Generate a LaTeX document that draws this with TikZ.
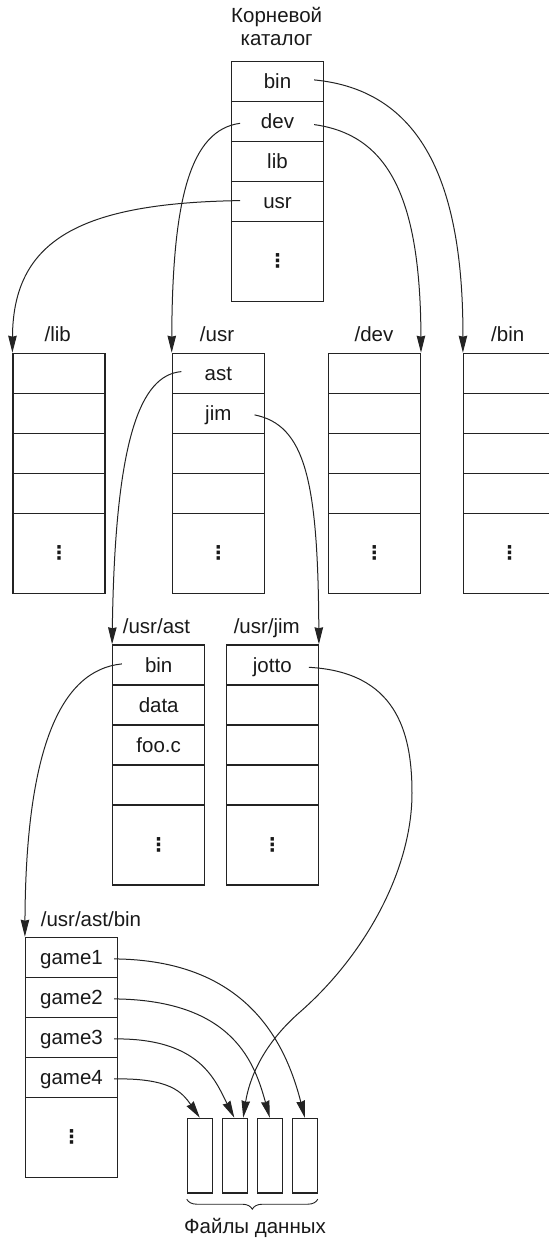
\documentclass[tikz,border=0pt]{standalone}
\usepackage{fontspec}
\setmainfont{Liberation Sans}
\newfontfamily\djv{DejaVu Sans}
\usetikzlibrary{arrows.meta,calc,decorations.pathreplacing}
\definecolor{lc}{RGB}{35,35,35}
\definecolor{tc}{RGB}{25,25,25}
\newcommand{\fsz}{\fontsize{20.5}{23}\selectfont}
\begin{document}
\begin{tikzpicture}[x=1pt,y=-1pt,
  boxbase/.style={draw=lc, line width=1.2pt, minimum width=92pt, inner sep=0pt, anchor=north, text=tc},
  cell/.style={boxbase, minimum height=40pt, text height=15pt, text depth=0pt, font=\fsz},
  lastcell/.style={boxbase, minimum height=80pt, font=\djv\bfseries\fontsize{19}{19}\selectfont},
  lbl/.style={anchor=base, inner sep=0pt, font=\fsz, text=tc},
  filebox/.style={draw=lc, line width=1.2pt, minimum width=24.8pt, minimum height=74.6pt, inner sep=0pt, anchor=north},
  arr/.style={draw=lc, line width=1pt, -{Stealth[length=17pt,width=8.5pt,inset=1pt]}}
]
\useasboundingbox (0,0) rectangle (549,1240);
\clip (0,0) rectangle (549,1240);

% title
\node[lbl] (troot1) at (276.7,22) {Корневой};
\node[lbl] (troot2) at (276.7,45) {каталог};

% root directory
\node[cell] (r1) at (277.5,60.7) {bin};
\node[cell] (r2) at (277.5,100.7) {dev};
\node[cell] (r3) at (277.5,140.7) {lib};
\node[cell] (r4) at (277.5,180.7) {usr};
\node[lastcell] (r5) at (277.5,220.7) {⋮};

% /lib
\node[lbl] (tlib) at (57.8,341.5) {/lib};
\node[cell] (l1) at (59,352.7) {};
\node[cell] (l2) at (59,392.7) {};
\node[cell] (l3) at (59,432.7) {};
\node[cell] (l4) at (59,472.7) {};
\node[lastcell] (l5) at (59,512.7) {⋮};

% /usr
\node[lbl] (tusr) at (217,341.5) {/usr};
\node[cell] (u1) at (218.3,352.7) {ast};
\node[cell] (u2) at (218.3,392.7) {jim};
\node[cell] (u3) at (218.3,432.7) {};
\node[cell] (u4) at (218.3,472.7) {};
\node[lastcell] (u5) at (218.3,512.7) {⋮};

% /dev
\node[lbl] (tdev) at (374,341.5) {/dev};
\node[cell] (d1) at (374.4,352.7) {};
\node[cell] (d2) at (374.4,392.7) {};
\node[cell] (d3) at (374.4,432.7) {};
\node[cell] (d4) at (374.4,472.7) {};
\node[lastcell] (d5) at (374.4,512.7) {⋮};

% /bin
\node[lbl] (tbin) at (507.7,341.5) {/bin};
\node[cell] (b1) at (509.5,352.7) {};
\node[cell] (b2) at (509.5,392.7) {};
\node[cell] (b3) at (509.5,432.7) {};
\node[cell] (b4) at (509.5,472.7) {};
\node[lastcell] (b5) at (509.5,512.7) {⋮};

% /usr/ast
\node[lbl] (tast) at (156.5,633) {/usr/ast};
\node[cell] (a1) at (158.7,644.3) {bin};
\node[cell] (a2) at (158.7,684.3) {data};
\node[cell] (a3) at (158.7,724.3) {foo.c};
\node[cell] (a4) at (158.7,764.3) {};
\node[lastcell] (a5) at (158.7,804.3) {⋮};

% /usr/jim
\node[lbl] (tjim) at (266.8,633) {/usr/jim};
\node[cell] (j1) at (272.3,644.3) {jotto};
\node[cell] (j2) at (272.3,684.3) {};
\node[cell] (j3) at (272.3,724.3) {};
\node[cell] (j4) at (272.3,764.3) {};
\node[lastcell] (j5) at (272.3,804.3) {⋮};

% /usr/ast/bin
\node[lbl] (tabin) at (91,926) {/usr/ast/bin};
\node[cell] (g1) at (71.5,936.7) {game1};
\node[cell] (g2) at (71.5,976.7) {game2};
\node[cell] (g3) at (71.5,1016.7) {game3};
\node[cell] (g4) at (71.5,1056.7) {game4};
\node[lastcell] (g5) at (71.5,1096.7) {⋮};

% data files
\node[filebox] (f1) at (199.8,1117.7) {};
\node[filebox] (f2) at (234.8,1117.7) {};
\node[filebox] (f3) at (269.8,1117.7) {};
\node[filebox] (f4) at (304.8,1117.7) {};
\draw[draw=lc, line width=0.9pt, decorate, decoration={brace, amplitude=10pt, mirror}]
  ($(f1.south west)+(0,5.7)$) -- ($(f4.south east)+(0,5.7)$);
\node[lbl] (tfiles) at (255,1233) {Файлы данных};

% connector start / end points
\coordinate (sRbin)  at ($(r1.east)+(-10,-1.4)$);
\coordinate (sRdevR) at ($(r2.east)+(-10,3.3)$);
\coordinate (sRdevL) at ($(r2.west)+(9.2,2)$);
\coordinate (sRusr)  at ($(r4.west)+(9.2,-0.7)$);
\coordinate (sAst)   at ($(u1.west)+(9.7,-1.7)$);
\coordinate (sJim)   at ($(u2.east)+(-10.3,1.6)$);
\coordinate (sAbin)  at ($(a1.west)+(9.8,-1)$);
\coordinate (sJotto) at ($(j1.east)+(-10,2.4)$);
\coordinate (sG1) at ($(g1.east)+(-4,1.6)$);
\coordinate (sG2) at ($(g2.east)+(-4,1.6)$);
\coordinate (sG3) at ($(g3.east)+(-4,1.6)$);
\coordinate (sG4) at ($(g4.east)+(-4,1.6)$);
\coordinate (eJotto) at ($(f2.north east)+(-4.6,0)$);
\coordinate (eG3) at ($(f2.north)+(-0.5,0)$);

% connectors
\draw[arr] (sRbin) .. controls (420,90) and (463.3,180) .. (b1.north west);
\draw[arr] (sRdevR) .. controls (390,135) and (420.4,200) .. (d1.north east);
\draw[arr] (sRdevL) .. controls (190,130) and (172.3,200) .. (u1.north west);
\draw[arr] (sRusr) .. controls (80,203) and (13,240) .. (l1.north west);
\draw[arr] (sAst) .. controls (140,375) and (115,440) .. (a1.north west);
\draw[arr] (sJim) .. controls (305,425) and (318,480) .. (j1.north east);
\draw[arr] (sAbin) .. controls (60,670) and (25.7,750) .. (g1.north west);
\draw[arr] (sJotto) .. controls (395,672) and (412,730) .. (412,793)
  .. controls (412,870) and (365,955) .. (300,1012)
  .. controls (262,1045) and (249,1080) .. (eJotto);
\draw[arr] (sG1) .. controls (245,960) and (285,1040) .. (f4.north);
\draw[arr] (sG2) .. controls (235,1000) and (255,1065) .. (f3.north);
\draw[arr] (sG3) .. controls (200,1038) and (215,1080) .. (eG3);
\draw[arr] (sG4) .. controls (170,1078) and (182,1092) .. (f1.north);
\end{tikzpicture}
\end{document}
